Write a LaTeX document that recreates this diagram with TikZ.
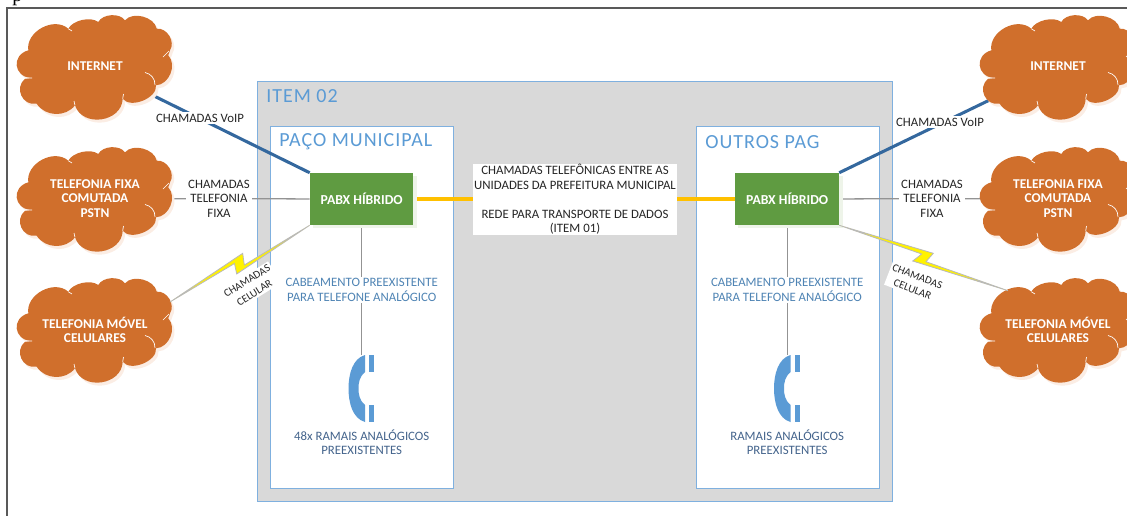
\documentclass[tikz,border=0pt]{standalone}
\usepackage{fontspec}
\setmainfont{Carlito}
\newfontfamily\serifp{Liberation Serif}
\newfontfamily\spaced[LetterSpace=5]{Carlito}
\pgfdeclarelayer{boxes}
\pgfdeclarelayer{conns}
\pgfsetlayers{boxes,conns,main}
\definecolor{cloudc}{HTML}{D06F2C}
\definecolor{cloudsh}{HTML}{FBEDE4}
\definecolor{greenc}{HTML}{5F9B41}
\definecolor{greensh}{HTML}{EEF4E9}
\definecolor{edgeb}{HTML}{7FB0DF}
\definecolor{phonec}{HTML}{5B9BD5}
\definecolor{titlec}{HTML}{5B9BD5}
\definecolor{cablec}{HTML}{4F84B4}
\definecolor{ramalc}{HTML}{44648C}
\definecolor{voipc}{HTML}{34689E}
\definecolor{inkc}{HTML}{262626}
\definecolor{datac}{HTML}{FFC000}
\tikzset{
  cloudpath/.pic={
    \path[pic actions] (-64,12)
      to[bend left=80,looseness=1.62] (-66.7,-15.7)
      to[bend left=70,looseness=1.07] (-26.7,-37.3)
      to[bend left=50,looseness=.8] (3.3,-44)
      to[bend left=60,looseness=.88] (30,-45.7)
      to[bend left=65,looseness=.94] (61.7,-37.3)
      to[bend left=65,looseness=1.04] (75,-15.7)
      -- (73.3,-10.7)
      to[bend left=65,looseness=1.04] (61,19.3)
      to[bend left=75,looseness=.92] (27.7,32.7)
      to[bend left=80,looseness=1.26] (-20,39.3)
      to[bend left=55,looseness=1.03] (-58.3,37.7)
      to[bend left=75,looseness=1.34] (-70,12.7) -- cycle;
  },
  cloudfill/.pic={
    \pic[fill=cloudsh] at (2.5,3) {cloudpath};
    \pic[fill=cloudc] at (0,0) {cloudpath};
    \draw[white,line width=.5pt] (-71,12) -- (-63,12)
      (50,6.5) to[bend left=40] (60,19)
      (-20,39.3) -- (-21,35)
      (27.7,32.7) -- (28.5,28)
      (68,-9) -- (74,-15)
      (-26.7,-37.3) -- (-23,-35);
  },
  cloudtext/.style={text=white,font=\fontsize{10.1pt}{11pt}\selectfont\bfseries,align=center,inner sep=0pt},
  pabx/.style={fill=greenc,minimum width=103.5*0.75pt,minimum height=52*0.75pt,inner sep=0pt,text=white,font=\fontsize{10.3pt}{11pt}\selectfont\bfseries},
  pabxshadow/.style={fill=greensh},
  areabox/.style={draw=edgeb,line width=.9pt},
  title/.style={text=titlec,anchor=west,inner sep=0pt,font=\spaced\fontsize{15pt}{16pt}\selectfont},
  lab/.style={fill=white,text=inkc,align=center,inner sep=1.5pt,font=\fontsize{9.6pt}{10.9pt}\selectfont},
  cable/.style={fill=white,text=cablec,align=center,inner sep=1pt,font=\fontsize{9.6pt}{10.7pt}\selectfont},
  ramal/.style={text=ramalc,align=center,inner sep=1pt,font=\fontsize{9.6pt}{10.7pt}\selectfont},
  grayline/.style={draw=gray!85,line width=.95pt},
  voip/.style={draw=voipc,line width=2.3pt},
  dataline/.style={draw=datac,line width=2.3pt},
  bolt/.style={fill=yellow,draw=gray!55,line width=.6pt,line join=miter},
  phonepart/.style={fill=phonec},
}
\begin{document}
\begin{tikzpicture}[x=0.75pt,y=-0.75pt]
\useasboundingbox (0,0) rectangle (1127,515);
\begin{pgfonlayer}{boxes}
  \draw[draw=gray!70!black,line width=.9pt] (7,520) -- (7,8) -- (1135,8);
  \node[areabox,fill=gray!30,minimum width=635*0.75pt,minimum height=420*0.75pt,inner sep=0pt,anchor=north west] (item) at (257,81) {};
  \node[areabox,fill=white,minimum width=183*0.75pt,minimum height=362*0.75pt,inner sep=0pt,anchor=north west] (paco) at (270,126) {};
  \node[areabox,fill=white,minimum width=183*0.75pt,minimum height=362*0.75pt,inner sep=0pt,anchor=north west] (outros) at (696,126) {};
\end{pgfonlayer}
\node[anchor=base west,inner sep=0pt,text=black,font=\serifp\fontsize{15pt}{15pt}\selectfont] (ptxt) at (12,1) {p};
\node[title] (t0) at (266,96) {ITEM 02};
\node[title] (t1) at (279,142) {PAÇO MUNICIPAL};
\node[title] (t2) at (705,142) {OUTROS PAG};
% clouds
\pic at (95,66) {cloudfill};
\pic at (95,198) {cloudfill};
\pic at (95,329) {cloudfill};
\pic at (1058,66) {cloudfill};
\pic at (1058,198) {cloudfill};
\pic at (1058,329) {cloudfill};
\node[cloudtext] (netL) at (95,66) {INTERNET};
\node[cloudtext] (fixL) at (95,198.5) {TELEFONIA FIXA\\COMUTADA\\PSTN};
\node[cloudtext] (movL) at (95,330) {TELEFONIA MÓVEL\\CELULARES};
\node[cloudtext] (netR) at (1058,66) {INTERNET};
\node[cloudtext] (fixR) at (1058,198.5) {TELEFONIA FIXA\\COMUTADA\\PSTN};
\node[cloudtext] (movR) at (1058,330) {TELEFONIA MÓVEL\\CELULARES};
% PABX
\fill[pabxshadow] (313,176) rectangle (416.5,228);
\fill[pabxshadow] (738,176) rectangle (842.5,228);
\node[pabx] (pl) at (361.7,199) {PABX HÍBRIDO};
\node[pabx] (pr) at (787.2,199) {PABX HÍBRIDO};
% phones
\newcommand{\handset}[1]{%
  \begin{scope}[shift={(#1,388.5)}]
    \fill[phonepart] (3.5,-33.5) .. controls (-9,-30) and (-13,-14) .. (-13,0) .. controls (-13,14) and (-9,30) .. (3.5,33.5) -- (3.5,16.5) .. controls (-2,12) and (-3,6) .. (-3,0) .. controls (-3,-6) and (-2,-12) .. (3.5,-16.5) -- cycle;
    \fill[phonepart] (7.5,-33.5) rectangle (12.5,-16.5);
    \fill[phonepart] (7.5,16.5) rectangle (12.5,33.5);
  \end{scope}}
\handset{361.5}
\handset{787}
\coordinate (phl) at (361.7,355);
\coordinate (phr) at (787.2,355);
% labels
\node[lab,minimum width=204*0.75pt,minimum height=71*0.75pt,inner sep=0pt] (mid) at (575,199.5) {CHAMADAS TELEFÔNICAS ENTRE AS\\UNIDADES DA PREFEITURA MUNICIPAL\\[10.9pt]REDE PARA TRANSPORTE DE DADOS\\(ITEM 01)};
\node[lab] (vl) at (200,118) {CHAMADAS VoIP};
\node[lab] (vr) at (940,122) {CHAMADAS VoIP};
\node[lab] (tl) at (219,198.5) {CHAMADAS\\TELEFONIA\\FIXA};
\node[lab] (tr) at (932,198.5) {CHAMADAS\\TELEFONIA\\FIXA};
\node[lab,rotate=32,font=\fontsize{8.2pt}{10.5pt}\selectfont] (cl) at (250.7,287) {CHAMADAS\\CELULAR};
\node[lab,rotate=-21,font=\fontsize{8.2pt}{10.5pt}\selectfont] (cr) at (915,283) {CHAMADAS\\CELULAR};
\node[cable] (cabl) at (361.7,290) {CABEAMENTO PREEXISTENTE\\PARA TELEFONE ANALÓGICO};
\node[cable] (cabr) at (787.2,290) {CABEAMENTO PREEXISTENTE\\PARA TELEFONE ANALÓGICO};
\node[ramal] (rl) at (361.7,442) {48x RAMAIS ANALÓGICOS\\PREEXISTENTES};
\node[ramal] (rr) at (787.2,442) {RAMAIS ANALÓGICOS\\PREEXISTENTES};
% connectors
\begin{pgfonlayer}{conns}
  \coordinate (a1) at (150,94);
  \coordinate (a2) at (1000,95);
  \draw[voip] (a1) -- (pl.north west);
  \draw[voip] (a2) -- (pr.north east);
  \draw[grayline] (fixL) -- (pl);
  \draw[grayline] (fixR) -- (pr);
  \draw[dataline] (pl) -- (pr);
  \draw[grayline] (pl) -- (phl);
  \draw[grayline] (pr) -- (phr);
\end{pgfonlayer}
% lightning connectors
\coordinate (b1) at (170,302);
\coordinate (b2) at (1008,290.7);
\draw[bolt] (b1) -- (242.7,253.3) -- (244.3,265) -- (pl.south west) -- (236.7,274) -- (234.5,263.5) -- cycle;
\draw[bolt] (pr.south east) -- (933.3,253.3) -- (926,261.7) -- (b2) -- (912.7,261) -- (921.7,254) -- cycle;
\end{tikzpicture}
\end{document}
